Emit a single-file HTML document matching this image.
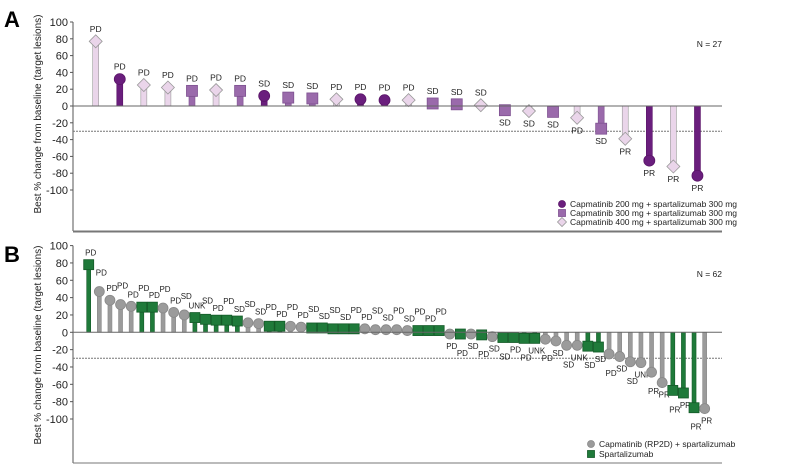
<!DOCTYPE html>
<html><head><meta charset="utf-8"><style>
body{margin:0;background:#fff;}
svg{display:block;font-family:"Liberation Sans",Arial,sans-serif;}
</style></head><body>
<svg id="chart" width="787" height="471" viewBox="0 0 787 471" xmlns="http://www.w3.org/2000/svg"></svg>
<script>
// Panel A data
const aValues=[77,32,25,22,18,19,18,12,10,9,8,8,7,7,3,2,1,-5,-6,-7,-14,-27,-39,-65,-72,-83];
const aGroups=[2,0,2,2,1,2,1,0,1,1,2,0,0,2,1,1,2,1,2,1,2,1,2,0,2,0];
const aLabels=["PD","PD","PD","PD","PD","PD","PD","SD","SD","SD","PD","PD","PD","PD","SD","SD","SD","SD","SD","SD","PD","SD","PR","PR","PR","PR"];
const aLegend=["Capmatinib 200 mg + spartalizumab 300 mg","Capmatinib 300 mg + spartalizumab 300 mg","Capmatinib 400 mg + spartalizumab 300 mg"];
// Panel B data
const bValues=[78,47,37,32,30,29,29,28,23,20,17,15,14,14,13,11,10,7,7,7,6,5,5,4,4,4,4,3,3,3,2,2,2,2,-2,-2,-2,-3,-5,-6,-6,-7,-7,-8,-10,-15,-15,-16,-17,-25,-28,-34,-35,-46,-58,-67,-70,-87,-88];
const bGroups=[1,0,0,0,0,1,1,0,0,0,1,1,1,1,1,0,0,1,1,0,0,1,1,1,1,1,0,0,0,0,0,1,1,1,0,1,0,1,0,1,1,1,1,0,0,0,0,1,1,0,0,0,0,0,0,1,1,1,0];
const bLabels=["PD","PD","PD","PD","PD","PD","PD","PD","PD","SD","UNK","SD","PD","PD","SD","SD","SD","PD","PD","PD","PD","SD","SD","SD","SD","PD","PD","SD","SD","PD","SD","PD","PD","PD","PD","PD","SD","PD","SD","SD","PD","PD","UNK","PD","SD","SD","UNK","SD","SD","PD","SD","SD","UNK","PR","PR","PR","PR","PR","PR"];
const bLegend=["Capmatinib (RP2D) + spartalizumab","Spartalizumab"];
const yTicks=[100,80,60,40,20,0,-20,-40,-60,-80,-100];

const NS="http://www.w3.org/2000/svg";
const svg=document.getElementById('chart');
function mk(tag,attrs,parent,text){const e=document.createElementNS(NS,tag);for(const k in attrs)e.setAttribute(k,attrs[k]);if(text!==undefined)e.textContent=text;(parent||svg).appendChild(e);return e;}

function marker(g,shape,cx,cy,r,fill,stroke){
  if(shape==='circle')return mk('circle',{cx:cx,cy:cy,r:r,fill:fill,stroke:stroke,'stroke-width':0.8},g);
  if(shape==='square')return mk('rect',{x:cx-r,y:cy-r,width:2*r,height:2*r,fill:fill,stroke:stroke,'stroke-width':0.8},g);
  return mk('polygon',{points:`${cx},${cy-r-1} ${cx+r+1},${cy} ${cx},${cy+r+1} ${cx-r-1},${cy}`,fill:fill,stroke:stroke,'stroke-width':0.8},g);
}

function panel(p){
  const y=v=>p.y0-v*p.k;
  const x=i=>p.x0+i*p.dx;
  const g=mk('g',{});
  
  
  const L=mk('text',{x:4,y:p.letterY,'font-size':22,'font-weight':'bold',fill:'#000'},g,p.letter);
  
  
  const ax=mk('line',{x1:73,y1:y(100),x2:73,y2:p.bottom,stroke:'#555','stroke-width':1},g);
  
  
  mk('line',{x1:73,y1:p.bottom,x2:722,y2:p.bottom,stroke:'#777','stroke-width':1},g);
  if(p.topLine)mk('line',{x1:73,y1:p.topLine,x2:722,y2:p.topLine,stroke:'#777','stroke-width':1},g);
  yTicks.forEach(t=>{
    mk('line',{x1:70,y1:y(t),x2:73,y2:y(t),stroke:'#555'},g);
    const tl=mk('text',{x:68,y:y(t)+4,'font-size':11,'text-anchor':'end',fill:'#222'},g,String(t));
    
    
  });
  const yt=mk('text',{x:0,y:0,'font-size':10,'text-anchor':'middle',fill:'#222',transform:`translate(41,${p.titleY}) rotate(-90)`},g,'Best % change from baseline (target lesions)');
  
  
  mk('line',{x1:73,y1:y(-30),x2:722,y2:y(-30),stroke:'#777','stroke-width':1,'stroke-dasharray':'2,1'},g);
  p.values.forEach((v,i)=>{
    const s=p.styles[p.groups[i]];
    const cx=x(i),cy=y(v);
    const stem=mk('rect',{x:cx-p.sw/2,y:Math.min(cy,y(0)),width:p.sw,height:Math.abs(cy-y(0)),fill:s.fill,stroke:s.stroke,'stroke-width':0.6},g);
    
    
    const m=marker(g,s.shape,cx,cy,p.r,s.fill,s.stroke);
    
    
    const alt=p.alt&&(i%2===1)?7:0;
    const ly=v>=0?cy-p.r-4-alt:cy+p.r+10+alt;
    const lt=mk('text',{x:cx+p.lx,y:ly,'font-size':p.fs,'text-anchor':'middle',fill:'#222'},g,p.labels[i]);
    
    
  });
  mk('line',{x1:73,y1:y(0),x2:722,y2:y(0),stroke:'#666','stroke-width':1},g);
  const n=mk('text',{x:722,y:p.nY,'font-size':8.5,'text-anchor':'end',fill:'#222'},g,p.nText);
  
  
  p.legend.forEach((t,j)=>{
    const s=p.styles[j];
    const ly=p.legY+j*p.legDy;
    const le=mk('g',{},g);
    
    
    marker(le,s.shape,p.legX,ly,3.5,s.fill,s.stroke);
    mk('text',{x:p.legX+8,y:ly+3,'font-size':8.5,fill:'#222'},le,t);
  });
}

panel({name:'panel-a',letter:'A',letterY:27,y0:106,k:0.84,x0:95.7,dx:24.07,bottom:231,titleY:114,
  values:aValues,groups:aGroups,labels:aLabels,legend:aLegend,sw:6,r:5.5,fs:8.5,lx:0,alt:false,
  styles:[{shape:'circle',fill:'#6a1e7d',stroke:'#5a1568'},{shape:'square',fill:'#9a6aab',stroke:'#7f5291'},{shape:'diamond',fill:'#ead5ea',stroke:'#999'}],
  nText:'N = 27',nY:47,legX:562,legY:204,legDy:9});
panel({name:'panel-b',letter:'B',letterY:262,y0:332.3,k:0.867,x0:88.7,dx:10.62,bottom:463,topLine:232,titleY:345,
  values:bValues,groups:bGroups,labels:bLabels,legend:bLegend,sw:4,r:5,fs:8,lx:2,alt:true,
  styles:[{shape:'circle',fill:'#9b9b9b',stroke:'#888'},{shape:'square',fill:'#1f7a3a',stroke:'#145a28'}],
  nText:'N = 62',nY:277,legX:591,legY:444,legDy:10});
</script>
</body></html>
